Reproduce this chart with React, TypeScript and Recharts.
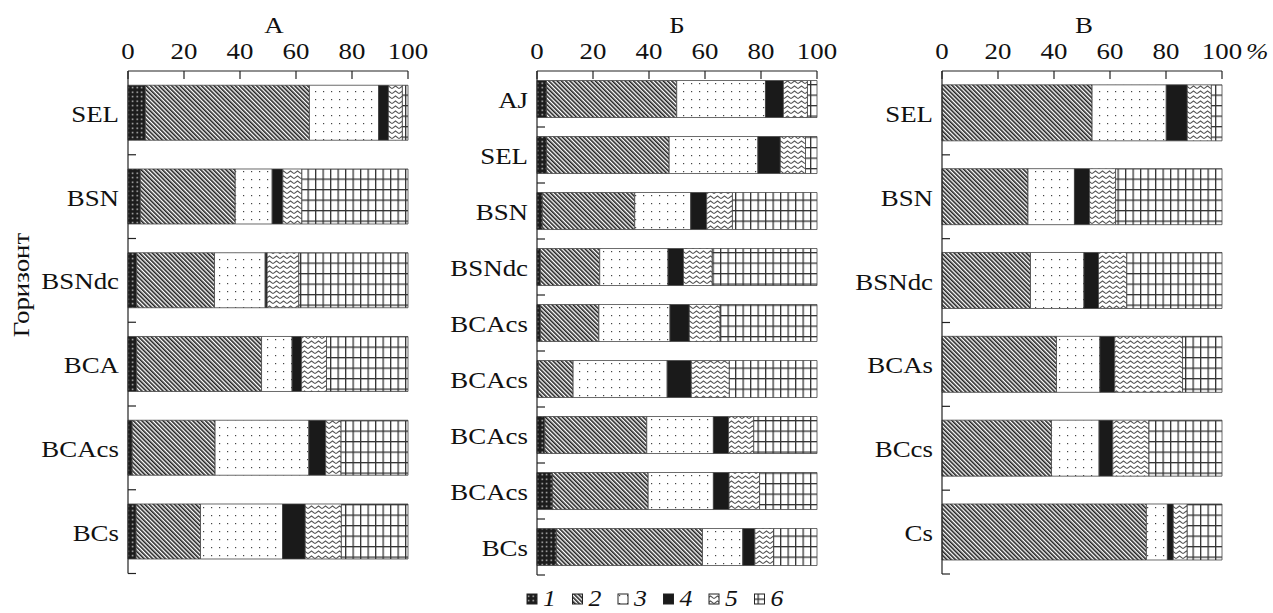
import React from "react";
import { BarChart, Bar, XAxis, YAxis } from "recharts";

const FONT = "Liberation Serif, Tinos, DejaVu Serif, serif";
const TXT: React.CSSProperties = { fontFamily: FONT };
const FS = 24;
const SX = 1.12;

// Panel A
const catsA = ["SEL", "BSN", "BSNdc", "BCA", "BCAcs", "BCs"];
const A1 = [6.2, 4.4, 3.1, 3.1, 1.5, 2.9];
const A2 = [58.6, 33.9, 27.8, 44.6, 29.6, 23.0];
const A3 = [24.7, 13.2, 18.1, 10.9, 33.5, 29.3];
const A4 = [3.5, 3.8, 0.7, 3.4, 6.0, 8.1];
const A5 = [5.0, 6.8, 11.3, 8.9, 5.5, 12.9];
const A6 = [2.0, 37.9, 39.0, 29.1, 23.9, 23.8];

// Panel Б
const catsB = ["AJ", "SEL", "BSN", "BSNdc", "BCAcs", "BCAcs", "BCAcs", "BCAcs", "BCs"];
const B1 = [3.4, 3.4, 1.9, 1.2, 1.2, 0.5, 2.8, 5.5, 6.9];
const B2 = [46.5, 43.8, 33.0, 21.2, 20.9, 12.4, 36.4, 34.2, 52.2];
const B3 = [31.7, 31.7, 20.0, 24.4, 25.4, 33.6, 23.8, 23.3, 14.4];
const B4 = [6.4, 8.0, 5.7, 5.5, 6.9, 8.6, 5.4, 5.6, 4.3];
const B5 = [8.6, 9.0, 9.2, 10.3, 11.0, 13.6, 9.0, 10.9, 6.7];
const B6 = [3.4, 4.1, 30.2, 37.4, 34.6, 31.3, 22.6, 20.5, 15.5];

// Panel В
const catsV = ["SEL", "BSN", "BSNdc", "BCAs", "BCcs", "Cs"];
const V1 = [0, 0, 0, 0, 0, 0];
const V2 = [53.6, 30.7, 31.6, 40.9, 39.1, 73.0];
const V3 = [26.5, 16.6, 19.1, 15.5, 17.0, 7.5];
const V4 = [7.5, 5.4, 5.2, 5.3, 4.9, 2.1];
const V5 = [8.6, 9.3, 10.1, 24.2, 12.9, 5.0];
const V6 = [3.8, 38.0, 34.0, 14.1, 26.1, 12.4];

const xTicks = [0, 20, 40, 60, 80, 100];
const seriesKeys = ["s1", "s2", "s3", "s4", "s5", "s6"];
const legendLabels = ["1", "2", "3", "4", "5", "6"];
const panelTitles = ["А", "Б", "В"];
const yTitle = "Горизонт";

const W = 1273;
const H = 613;

function buildData(cats: string[], series: number[][]) {
  return cats.map((c, i) => {
    const row: any = { key: c + "|" + i };
    seriesKeys.forEach((k, j) => {
      row[k] = series[j][i];
    });
    return row;
  });
}

function T({ x, y, anchor, children, italic, size }: any) {
  return (
    <text
      x={0}
      y={0}
      transform={`translate(${x},${y}) scale(${SX},1)`}
      textAnchor={anchor || "start"}
      fontSize={size || FS}
      fontStyle={italic ? "italic" : "normal"}
      style={TXT}
      fill="#111"
    >
      {children}
    </text>
  );
}

type PanelProps = {
  cats: string[];
  series: number[][];
  left: number;
  right: number;
  top: number;
  bottom: number;
  gap: string;
};

function Panel({ cats, series, left, right, top, bottom, gap }: PanelProps) {
  const data = buildData(cats, series);
  const n = cats.length;
  const band = (bottom - top) / n;
  const xTick = (props: any) => {
    const { x, payload } = props;
    return (
      <g>
        <line x1={x} x2={x} y1={top} y2={top + 8} stroke="#222" strokeWidth={1.2} />
        <T x={x} y={top - 12} anchor="middle">
          {payload.value}
        </T>
      </g>
    );
  };
  const yTick = (props: any) => {
    const { y, payload } = props;
    const label = String(payload.value).split("|")[0];
    return (
      <g>
        <line x1={left} x2={left + 8} y1={y + band / 2} y2={y + band / 2} stroke="#222" strokeWidth={1.2} />
        <T x={left - 9} y={y + 9} anchor="end">
          {label}
        </T>
      </g>
    );
  };
  return (
    <div style={{ position: "absolute", left: 0, top: 0 }}>
      <BarChart
        width={W}
        height={H}
        data={data}
        layout="vertical"
        margin={{ top: top - 30, right: W - right, bottom: H - bottom, left: 0 }}
        barCategoryGap={gap}
      >
        <XAxis
          type="number"
          orientation="top"
          domain={[0, 100]}
          ticks={xTicks}
          height={30}
          tickLine={false}
          axisLine={{ stroke: "#222", strokeWidth: 1.2 }}
          tick={xTick}
          interval={0}
        />
        <YAxis
          type="category"
          dataKey="key"
          width={left}
          tickLine={false}
          axisLine={{ stroke: "#222", strokeWidth: 1.2 }}
          tick={yTick}
          interval={0}
        />
        {seriesKeys.map((k, j) => (
          <Bar
            key={k}
            dataKey={k}
            stackId="a"
            fill={`url(#pat${j + 1})`}
            stroke="#444"
            strokeWidth={0.8}
            isAnimationActive={false}
          />
        ))}
      </BarChart>
    </div>
  );
}

function Patterns() {
  return (
    <defs>
      <pattern id="pat1" width={4.5} height={4.5} patternUnits="userSpaceOnUse">
        <rect width={4.5} height={4.5} fill="#1c1c1c" />
        <rect x={1.5} y={1.5} width={1.4} height={1.4} fill="#ddd" />
      </pattern>
      <pattern id="pat2" width={3} height={3} patternUnits="userSpaceOnUse" patternTransform="rotate(-45)">
        <rect width={3} height={3} fill="#fff" />
        <rect width={1.6} height={3} fill="#222" />
      </pattern>
      <pattern id="pat3" width={8} height={8} patternUnits="userSpaceOnUse">
        <rect width={8} height={8} fill="#fff" />
        <rect x={3} y={3} width={1.2} height={1.2} fill="#444" />
      </pattern>
      <pattern id="pat4" width={4} height={4} patternUnits="userSpaceOnUse">
        <rect width={4} height={4} fill="#1a1a1a" />
      </pattern>
      <pattern id="pat5" width={7} height={5} patternUnits="userSpaceOnUse">
        <rect width={7} height={5} fill="#fff" />
        <path d="M0 3.6 L3.5 1 L7 3.6" fill="none" stroke="#555" strokeWidth={1.1} />
      </pattern>
      <pattern id="pat6" width={7.5} height={10.5} patternUnits="userSpaceOnUse">
        <rect width={7.5} height={10.5} fill="#fff" />
        <rect x={0} y={0} width={1.3} height={10.5} fill="#333" />
        <rect x={0} y={0} width={7.5} height={1.3} fill="#333" />
      </pattern>
    </defs>
  );
}

function Overlay() {
  const titleXs = [274, 677, 1084];
  const legendStart = 527;
  const legendStep = 45.5;
  return (
    <svg width={W} height={H} style={{ position: "absolute", left: 0, top: 0, pointerEvents: "none" }}>
      <Patterns />
      {panelTitles.map((t, i) => (
        <T key={t} x={titleXs[i]} y={33} anchor="middle">
          {t}
        </T>
      ))}
      <T x={1246} y={59} italic>
        %
      </T>
      <text
        x={0}
        y={0}
        transform={`translate(29,285) rotate(-90) scale(${SX},1)`}
        textAnchor="middle"
        fontSize={FS}
        style={TXT}
        fill="#111"
      >
        {yTitle}
      </text>
      {legendLabels.map((l, i) => {
        const x = legendStart + i * legendStep;
        return (
          <g key={l}>
            <rect x={x} y={594} width={10} height={10} fill={`url(#pat${i + 1})`} stroke="#222" strokeWidth={1} />
            <T x={x + 16} y={606} italic size={23}>
              {l}
            </T>
          </g>
        );
      })}
    </svg>
  );
}

export default function App() {
  return (
    <div style={{ position: "absolute", left: 0, top: 0, width: W, height: H, background: "#fff" }}>
      <Panel cats={catsA} series={[A1, A2, A3, A4, A5, A6]} left={128} right={408} top={71} bottom={573.5} gap="17%" />
      <Panel cats={catsB} series={[B1, B2, B3, B4, B5, B6]} left={537} right={817} top={71} bottom={575} gap="17%" />
      <Panel cats={catsV} series={[V1, V2, V3, V4, V5, V6]} left={942} right={1222} top={71} bottom={574} gap="16.5%" />
      <Overlay />
    </div>
  );
}
